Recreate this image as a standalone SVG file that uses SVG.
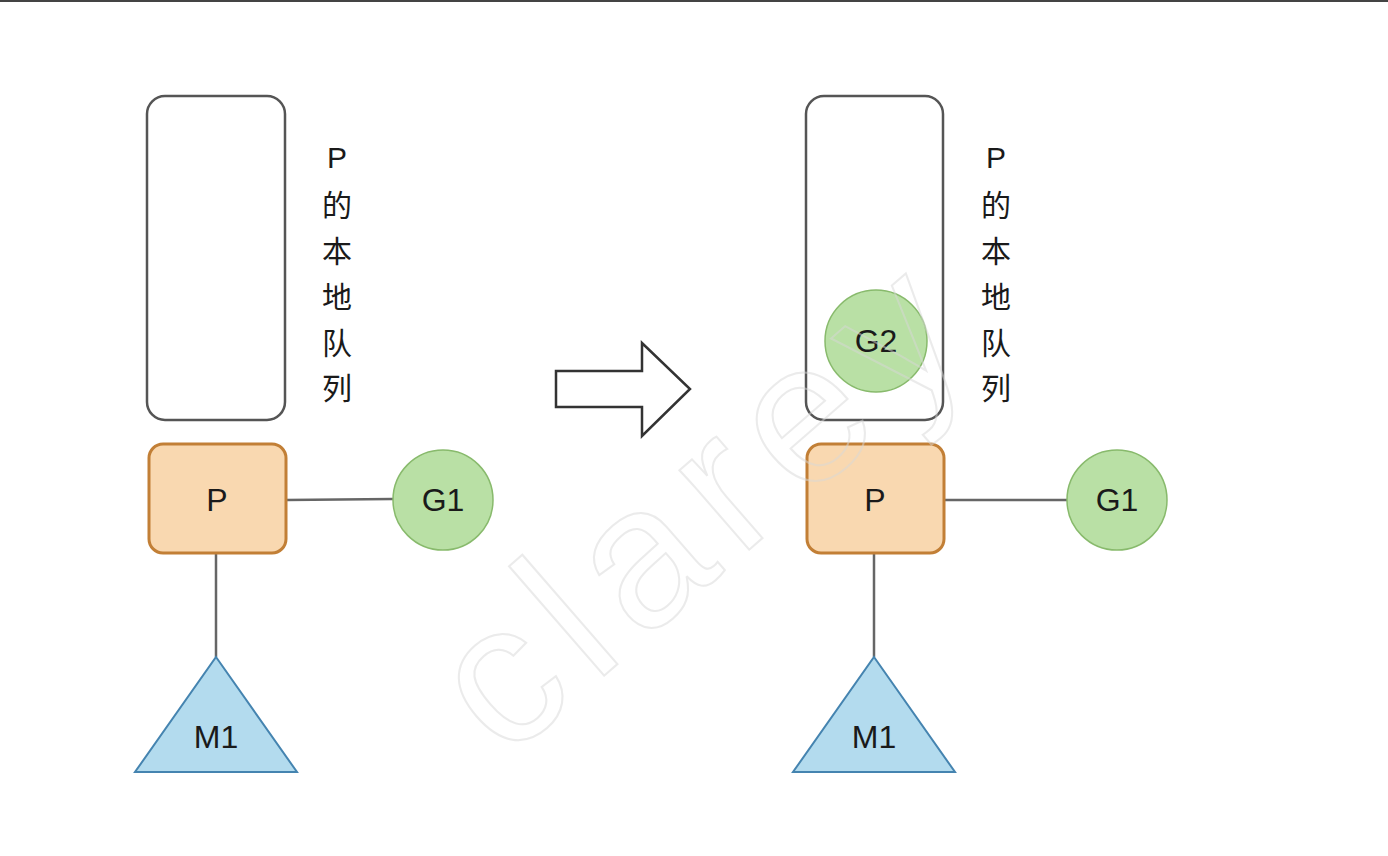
<svg xmlns="http://www.w3.org/2000/svg" width="1388" height="856" viewBox="0 0 1388 856">
<style>
.queue{fill:#ffffff;stroke:#555555;stroke-width:2.5}
.proc{fill:#f9d8b0;stroke:#c27f36;stroke-width:3}
.gor{fill:#b9e0a5;stroke:#88ba6c;stroke-width:1.5}
.mach{fill:#b3dbee;stroke:#4584b0;stroke-width:2}
.edge{stroke:#666666;stroke-width:2.5;fill:none}
.lbl{font-family:"Liberation Sans",Arial,sans-serif;font-size:32px;fill:#1a1a1a;text-anchor:middle}
.vt{font-family:"Liberation Sans","Noto Sans CJK SC",sans-serif;font-size:30px;fill:#1a1a1a;text-anchor:middle}
.wm{font-family:"Liberation Sans",Arial,sans-serif;font-size:200px;fill:none;stroke:#d8d8d8;stroke-width:2;opacity:0.5}
</style>
<rect x="0" y="0" width="1388" height="856" fill="#ffffff"/>
<rect x="0" y="0" width="1388" height="2" fill="#444444"/>
<g id="connectors">
<line class="edge" x1="286" y1="500" x2="393" y2="499"/>
<line class="edge" x1="216" y1="554" x2="216" y2="657"/>
<line class="edge" x1="944" y1="500" x2="1067" y2="500"/>
<line class="edge" x1="874" y1="554" x2="874" y2="657"/>
</g>
<g id="arrow">
<polygon points="556,371 642,371 642,343 690,389 642,436 642,407 556,407" fill="#ffffff" stroke="#333333" stroke-width="2.5" stroke-linejoin="miter"/>
</g>
<g id="left-queue">
<rect class="queue" x="147" y="96" width="138" height="324" rx="18"/>
</g>
<g id="left-queue-label">
<text class="vt"><tspan x="337" y="168">P</tspan><tspan x="337" y="216">的</tspan><tspan x="337" y="262">本</tspan><tspan x="337" y="308">地</tspan><tspan x="337" y="354">队</tspan><tspan x="337" y="399">列</tspan></text>
</g>
<g id="left-P">
<rect class="proc" x="149" y="444" width="137" height="109" rx="14"/>
<text class="lbl" x="217" y="511">P</text>
</g>
<g id="left-G1">
<circle class="gor" cx="443" cy="500" r="50"/>
<text class="lbl" x="443" y="511">G1</text>
</g>
<g id="left-M1">
<polygon class="mach" points="216,657 297,772 135,772"/>
<text class="lbl" x="216" y="748">M1</text>
</g>
<g id="right-queue">
<rect class="queue" x="806" y="96" width="137" height="324" rx="18"/>
</g>
<g id="right-G2">
<circle class="gor" cx="876" cy="341" r="51"/>
<text class="lbl" x="876" y="352">G2</text>
</g>
<g id="right-queue-label">
<text class="vt"><tspan x="996" y="168">P</tspan><tspan x="996" y="216">的</tspan><tspan x="996" y="262">本</tspan><tspan x="996" y="308">地</tspan><tspan x="996" y="354">队</tspan><tspan x="996" y="399">列</tspan></text>
</g>
<g id="right-P">
<rect class="proc" x="807" y="444" width="137" height="109" rx="14"/>
<text class="lbl" x="875" y="511">P</text>
</g>
<g id="right-G1">
<circle class="gor" cx="1117" cy="500" r="50"/>
<text class="lbl" x="1117" y="511">G1</text>
</g>
<g id="right-M1">
<polygon class="mach" points="874,657 955,772 793,772"/>
<text class="lbl" x="874" y="748">M1</text>
</g>
<text class="wm" transform="translate(505,762) rotate(-41)" letter-spacing="18">clarey</text>
</svg>
